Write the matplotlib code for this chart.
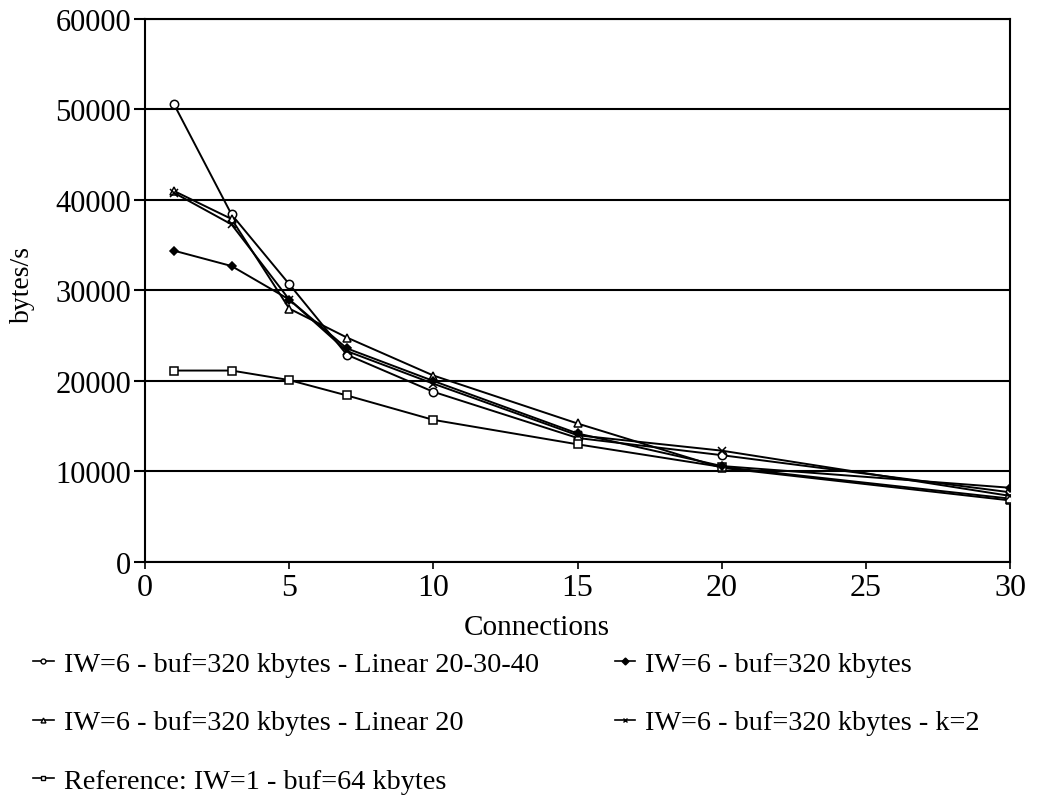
import matplotlib
matplotlib.use("Agg")
import matplotlib.pyplot as plt

connections = [1, 3, 5, 7, 10, 15, 20, 30]

linear_20_30_40 = [50600, 38400, 30700, 22900, 18800, 13700, 11800, 7700]
linear_20 = [41000, 37900, 28000, 24800, 20600, 15300, 10400, 6800]
iw6_buf320 = [34400, 32700, 29000, 23600, 20000, 14200, 10600, 8200]
iw6_k2 = [40800, 37300, 29000, 23300, 19700, 14000, 12300, 7300]
reference = [21150, 21150, 20100, 18400, 15700, 13000, 10500, 7000]

labels = [
    "IW=6 - buf=320 kbytes - Linear 20-30-40",
    "IW=6 - buf=320 kbytes - Linear 20",
    "Reference: IW=1 - buf=64 kbytes",
    "IW=6 - buf=320 kbytes",
    "IW=6 - buf=320 kbytes - k=2",
]
yticks = [0, 10000, 20000, 30000, 40000, 50000, 60000]
xticks = [0, 5, 10, 15, 20, 25, 30]

plt.rcParams['font.family'] = ['Liberation Serif', 'DejaVu Serif']

fig = plt.figure(figsize=(10.61, 8.12), dpi=100)
ax = fig.add_axes([0.1367, 0.3067, 0.9520 - 0.1367, 0.9754 - 0.3067])

lw = 1.4
ms = 6
series = [
    (linear_20_30_40, 'o', 'white'),
    (linear_20, '^', 'white'),
    (reference, 's', 'white'),
    (iw6_buf320, 'D', 'black'),
    (iw6_k2, 'x', 'black'),
]
for (vals, mk, fc), lab in zip(series, labels):
    size = ms if mk != 'D' else 4.5
    ax.plot(connections, vals, color='black', linewidth=lw, marker=mk,
            markersize=size, markerfacecolor=fc, markeredgecolor='black',
            markeredgewidth=1.1, label=lab, zorder=3)

ax.set_xlim(0, 30)
ax.set_ylim(0, 60000)
ax.set_xticks(xticks)
ax.set_yticks(yticks)
ax.set_xticklabels([str(t) for t in xticks])
ax.set_yticklabels([str(t) for t in yticks])
ax.yaxis.grid(True, color='black', linewidth=1.5)
ax.set_axisbelow(True)
for s in ax.spines.values():
    s.set_linewidth(1.5)
ax.tick_params(axis='y', direction='out', length=8, width=1.5, labelsize=22, pad=2)
ax.tick_params(axis='x', direction='out', length=5, width=1.2, labelsize=23, pad=3)
ax.set_xlabel("Connections", fontsize=21)
ax.xaxis.set_label_coords(0.453, -0.096)
ax.set_ylabel("bytes/s", fontsize=20)
ax.yaxis.set_label_coords(-0.127, 0.512)

leg_handles = []
for (vals, mk, fc), lab in zip(series, labels):
    h, = ax.plot([], [], color='black', linewidth=1.2, marker=mk, markersize=3.5,
                 markerfacecolor=fc, markeredgecolor='black', markeredgewidth=1.0)
    leg_handles.append(h)

fig.legend(leg_handles, labels, loc='upper left', bbox_to_anchor=(0.0075, 0.228),
           ncol=2, frameon=False, fontsize=20.3, handlelength=0.72,
           handletextpad=0.36, labelspacing=1.16, columnspacing=2.7)

fig.savefig("out.png", dpi=100)
